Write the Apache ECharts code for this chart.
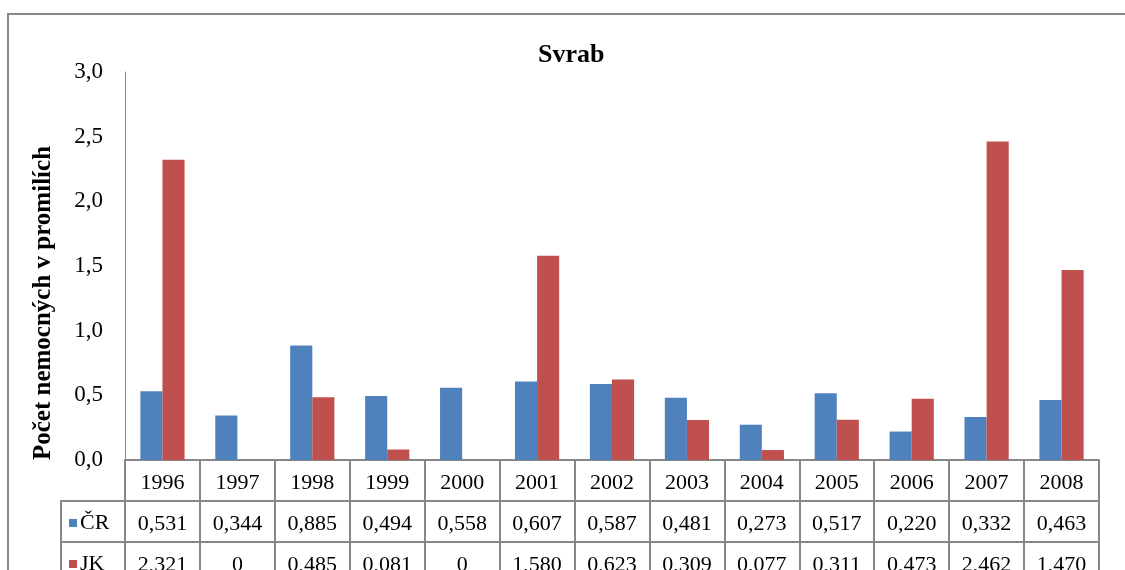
<!DOCTYPE html>
<html>
<head>
<meta charset="utf-8">
<title>Svrab</title>
<script src="https://cdn.jsdelivr.net/npm/echarts@6/dist/echarts.min.js"></script>
<style>
  html, body { margin: 0; padding: 0; background: #fff; }
  #chart { width: 1125px; height: 570px; }
</style>
</head>
<body>
<div id="chart"></div>
<script>
// data
var years = ['1996', '1997', '1998', '1999', '2000', '2001', '2002', '2003', '2004', '2005', '2006', '2007', '2008'];
var crValues = [0.531, 0.344, 0.885, 0.494, 0.558, 0.607, 0.587, 0.481, 0.273, 0.517, 0.220, 0.332, 0.463];
var jkValues = [2.321, 0, 0.485, 0.081, 0, 1.580, 0.623, 0.309, 0.077, 0.311, 0.473, 2.462, 1.470];
var yTicks = [0, 0.5, 1.0, 1.5, 2.0, 2.5, 3.0];

var FONT = 'Liberation Serif';
var GRID_LINE = '#878787';

function fmt3(v) {
    return v === 0 ? '0' : v.toFixed(3).replace('.', ',');
}

var dom = document.getElementById('chart');
var myChart = echarts.init(dom);

// spolecne nastaveni radku tabulky pod grafem
function tableAxis(offset, labelFn) {
    return {
        type: 'category',
        position: 'bottom',
        offset: offset,
        data: years,
        axisLine: { show: true, lineStyle: { color: GRID_LINE, width: 2 } },
        axisTick: { show: true, length: 41, lineStyle: { color: GRID_LINE, width: 2 } },
        axisLabel: {
            margin: 12,
            fontFamily: FONT,
            fontSize: 22,
            color: '#000',
            formatter: labelFn
        }
    };
}

// jedna polozka legendy v bunce tabulky
function tableLegend(name, top) {
    return {
        orient: 'vertical',
        left: 69,
        top: top,
        padding: 0,
        itemWidth: 8,
        itemHeight: 8,
        icon: 'rect',
        selectedMode: false,
        textStyle: {
            fontFamily: FONT,
            fontSize: 22,
            color: '#000',
            padding: [0, 0, 0, -2]
        },
        data: [name]
    };
}

myChart.setOption({
    animation: false,
    title: {
        text: 'Svrab',
        left: 533,
        top: 37,
        textStyle: {
            fontFamily: FONT,
            fontWeight: 'bold',
            fontSize: 26,
            color: '#000'
        }
    },
    legend: [
        tableLegend('ČR', 512),
        tableLegend('JK', 553)
    ],
    grid: {
        left: 125,
        right: 26,
        top: 72,
        bottom: 110,
        containLabel: false,
        outerBoundsMode: 'none'
    },
    xAxis: [
        tableAxis(0, function (v) { return v; }),
        tableAxis(41, function (v, i) { return fmt3(crValues[i]); }),
        tableAxis(82, function (v, i) { return fmt3(jkValues[i]); })
    ],
    yAxis: {
        type: 'value',
        min: yTicks[0],
        max: yTicks[yTicks.length - 1],
        interval: 0.5,
        axisLine: { show: true, lineStyle: { color: GRID_LINE, width: 1 } },
        axisTick: { show: false },
        splitLine: { show: false },
        axisLabel: {
            margin: 22,
            fontFamily: FONT,
            fontSize: 23,
            color: '#000',
            formatter: function (v) { return v.toFixed(1).replace('.', ','); }
        }
    },
    graphic: [
        {   // ramecek grafu
            type: 'rect',
            z: -1,
            shape: { x: 8, y: 14, width: 1200, height: 700 },
            style: { fill: 'none', stroke: '#888', lineWidth: 2 }
        },
        {   // nazev osy y
            type: 'text',
            x: 44,
            y: 303,
            rotation: Math.PI / 2,
            style: {
                text: 'Počet nemocných v promilích',
                fontFamily: FONT,
                fontWeight: 'bold',
                fontSize: 25,
                fill: '#000',
                align: 'center',
                verticalAlign: 'middle'
            }
        },
        // bunky legendy v tabulce
        { type: 'line', shape: { x1: 61, y1: 501, x2: 125, y2: 501 }, style: { stroke: GRID_LINE, lineWidth: 2 } },
        { type: 'line', shape: { x1: 61, y1: 542, x2: 125, y2: 542 }, style: { stroke: GRID_LINE, lineWidth: 2 } },
        { type: 'line', shape: { x1: 61, y1: 500, x2: 61, y2: 600 }, style: { stroke: GRID_LINE, lineWidth: 2 } }
    ],
    series: [
        {
            name: 'ČR',
            type: 'bar',
            xAxisIndex: 0,
            data: crValues,
            barGap: '0%',
            barCategoryGap: '41%',
            itemStyle: { color: '#4F81BD' }
        },
        {
            name: 'JK',
            type: 'bar',
            xAxisIndex: 0,
            data: jkValues,
            itemStyle: { color: '#C0504D' }
        }
    ]
});
window.addEventListener('resize', function () {
    myChart.resize();
});
</script>
</body>
</html>
